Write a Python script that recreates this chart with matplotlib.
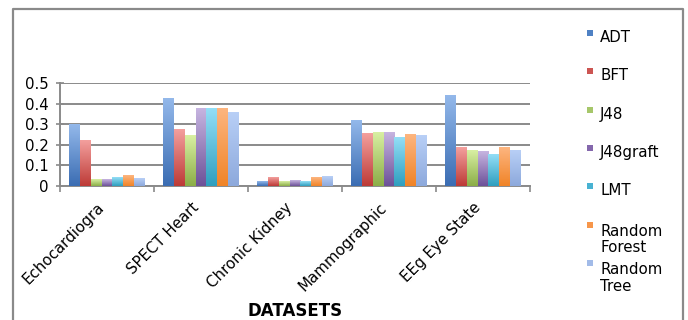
import numpy as np
import matplotlib
matplotlib.use("Agg")
from matplotlib import pyplot as plt
from matplotlib.colors import LinearSegmentedColormap
from matplotlib.patches import Rectangle

plt.rcParams['font.family'] = ['DejaVu Sans']

datasets = ["Echocardiogra", "SPECT Heart", "Chronic Kidney", "Mammographic", "EEg Eye State"]
classifiers = ["ADT", "BFT", "J48", "J48graft", "LMT", "Random\nForest", "Random\nTree"]

adt = [0.300, 0.427, 0.021, 0.321, 0.441]
bft = [0.223, 0.277, 0.041, 0.254, 0.186]
j48 = [0.031, 0.244, 0.021, 0.259, 0.174]
j48graft = [0.031, 0.377, 0.028, 0.259, 0.169]
lmt = [0.041, 0.377, 0.021, 0.238, 0.155]
random_forest = [0.049, 0.377, 0.041, 0.249, 0.189]
random_tree = [0.036, 0.359, 0.046, 0.244, 0.174]

values = [adt, bft, j48, j48graft, lmt, random_forest, random_tree]

# top / bottom colours of the bar gradients, and the legend colour
tops = ['#93b8ea', '#f39f9d', '#d8efa2', '#c6b4e0', '#93def6', '#fdb57f', '#b8cff6']
bottoms = ['#3b6db3', '#bd3b37', '#8cae48', '#6d5299', '#2f9fbf', '#f08428', '#8da9dc']
legend_cols = ['#4f81c4', '#cc5552', '#a6c76a', '#8467ac', '#48b2d2', '#f7964a', '#a2bbe8']
grey = '#8a8a8a'
fsize = 10.8

fig = plt.figure(figsize=(6.88, 3.2), dpi=100)
ax = fig.add_axes([60 / 688, 1 - 186 / 320, 470 / 688, (186 - 83.3) / 320])

n = len(classifiers)
x = np.arange(len(datasets)) + 0.5
width = 0.117
for i, vals in enumerate(values):
    pos = x + (i - (n - 1) / 2) * width
    bars = ax.bar(pos, vals, width=width, color=legend_cols[i], zorder=3)
    cmap = LinearSegmentedColormap.from_list("g%d" % i, [bottoms[i], tops[i]])
    for b in bars:
        x0, y0 = b.get_x(), b.get_y()
        x1, y1 = x0 + b.get_width(), y0 + b.get_height()
        grad = np.linspace(1, 0, 50).reshape(-1, 1)
        ax.imshow(grad, extent=[x0, x1, y0, y1], aspect='auto', cmap=cmap,
                  vmin=0, vmax=1, zorder=3.5, interpolation='bilinear')

ax.set_xlim(0, len(datasets))
ax.set_ylim(0, 0.5)
ax.set_yticks([0, 0.1, 0.2, 0.3, 0.4, 0.5])
ax.set_yticklabels(["0", "0.1", "0.2", "0.3", "0.4", "0.5"])
ax.yaxis.grid(True, color=grey, linewidth=1.4, zorder=0)
ax.set_axisbelow(True)
ax.tick_params(axis='y', direction='inout', length=6, width=1.2, color=grey,
               pad=5, labelsize=fsize)

ax.set_xticks(np.arange(len(datasets) + 1))
ax.set_xticklabels([])
ax.tick_params(axis='x', length=4, width=1.2, color=grey)
for xi, name in zip(x, datasets):
    ax.annotate(name, xy=(xi, 0), xycoords=('data', 'axes fraction'),
                xytext=(-10, -14), textcoords='offset pixels',
                ha='right', va='top', rotation=45, rotation_mode='anchor',
                fontsize=fsize)

for s in ['top', 'right']:
    ax.spines[s].set_visible(False)
for s in ['bottom', 'left']:
    ax.spines[s].set_color(grey)
    ax.spines[s].set_linewidth(1.4)

fig.text(295 / 688, 1 - 316 / 320, "DATASETS", ha='center', va='baseline',
         fontsize=12, fontweight='bold')

# legend drawn by hand, Excel style even slots
line_gap = 19
for i, name in enumerate(classifiers):
    yc = 37 + i * 38.3
    fig.patches.append(Rectangle((587 / 688, 1 - (yc - 1) / 320), 6 / 688, 6 / 320,
                                 transform=fig.transFigure, facecolor=legend_cols[i],
                                 edgecolor='none'))
    # multi-line text is aligned on its last baseline
    extra = name.count("\n") * line_gap
    fig.text(600 / 688, 1 - (yc + 5 + extra) / 320, name, ha='left', va='baseline',
             fontsize=fsize, linespacing=1.13)

# outer frame
fig.add_artist(plt.Line2D([13 / 688, 13 / 688, 683 / 688, 683 / 688],
                          [0, 1 - 9 / 320, 1 - 9 / 320, 0],
                          transform=fig.transFigure, color=grey, linewidth=1.6))

plt.savefig("out.png", dpi=100)
